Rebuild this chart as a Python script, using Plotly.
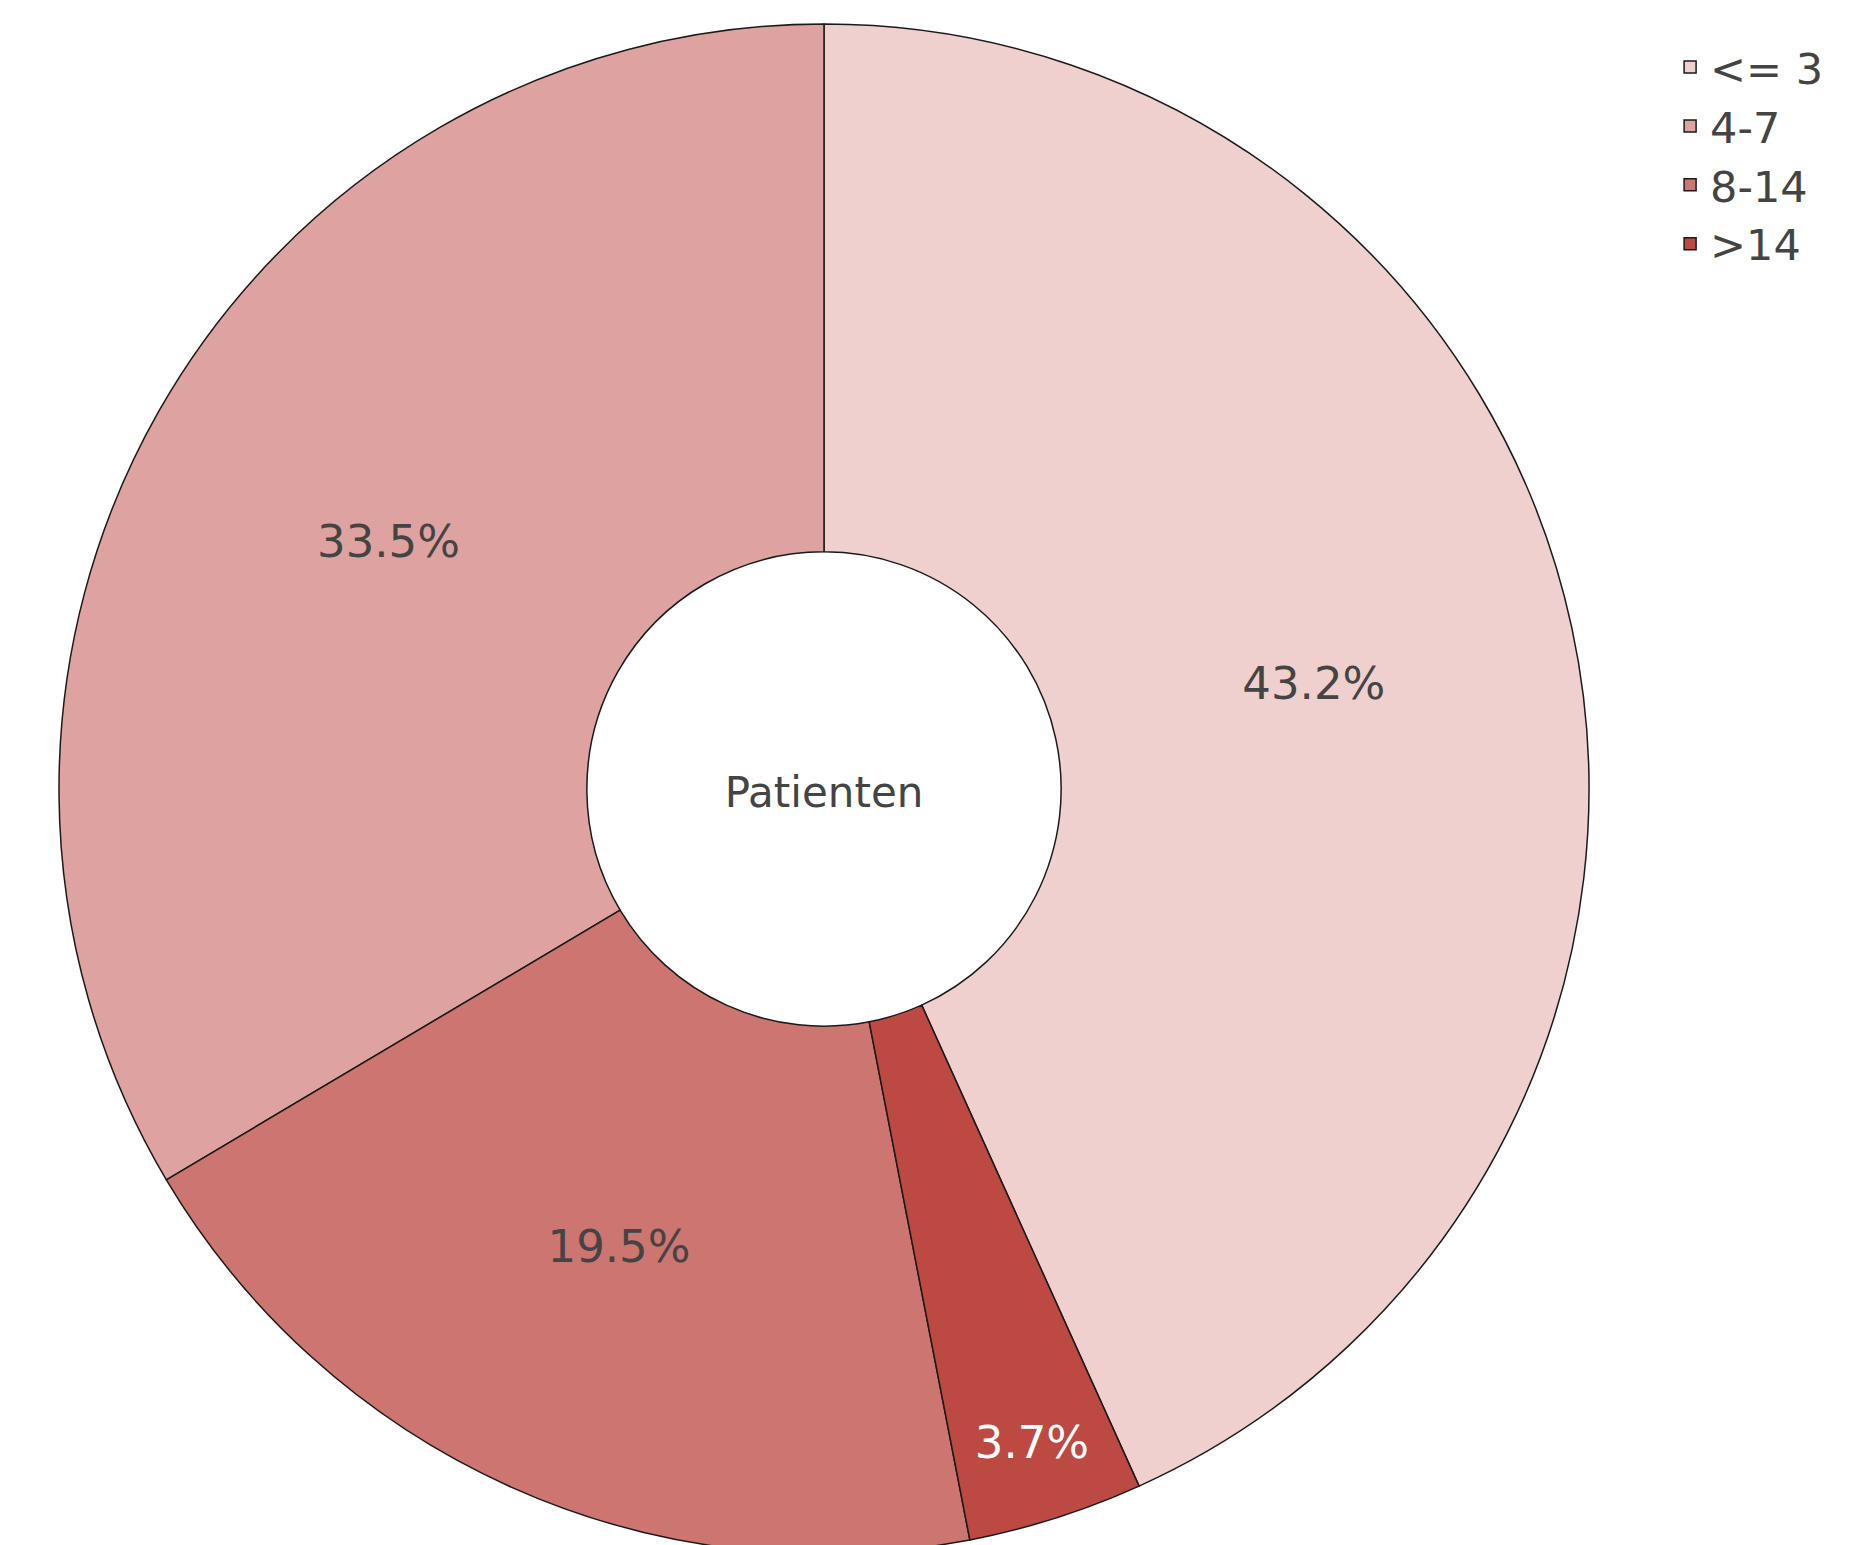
import plotly.graph_objects as go

labels = ["<= 3", "4-7", "8-14", ">14"]
values = [43.2, 33.5, 19.5, 3.7]
colors = ["#f0d0ce", "#dea3a0", "#cd7570", "#bd4943"]

font_family = "Verdana, DejaVu Sans, sans-serif"

fig = go.Figure(
    go.Pie(
        labels=labels,
        values=values,
        hole=0.31,
        direction="counterclockwise",
        textinfo="percent",
        texttemplate="%{percent:.1%}",
        textfont=dict(size=45),
        marker=dict(colors=colors, line=dict(color="#1a1a1a", width=1.5)),
        title=dict(text="Patienten", position="middle center", font=dict(size=42, color="#444444")),
    )
)

fig.update_layout(
    width=1875,
    height=1575,
    margin=dict(l=51, r=294, t=16, b=29),
    font=dict(family=font_family, color="#444444"),
    paper_bgcolor="white",
    legend=dict(
        x=1.053, y=0.9944, xanchor="left", yanchor="top",
        font=dict(size=43),
    ),
)

fig.write_html("out.html")
